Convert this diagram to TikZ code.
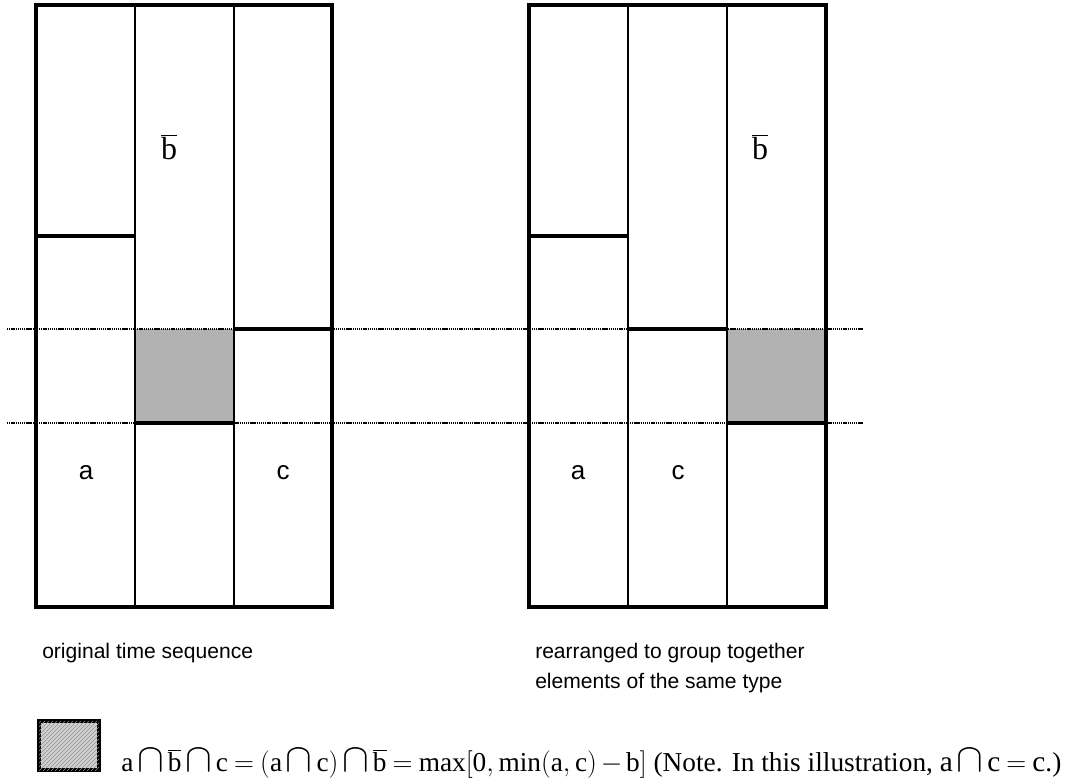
\documentclass[tikz,border=0pt]{standalone}
\usepackage{fontspec}
\usepackage{graphicx}
\setmainfont{Liberation Serif}
\setsansfont{Liberation Sans}
\usetikzlibrary{patterns}
\newcommand{\bcap}{\mathbin{\scalebox{1.45}{$\cap$}}}
\begin{document}
\begin{tikzpicture}[x=0.75pt,y=-0.75pt,
  frame/.style={line width=2.8pt},
  sepline/.style={line width=2.2pt},
  bound/.style={line width=3.6pt},
  dotline/.style={line width=2.2pt,dash pattern=on 1pt off 0.6pt},
  hatchfill/.style={fill=gray!60},
  lab/.style={font=\sffamily\fontsize{19.5}{22}\selectfont},
  capt/.style={font=\sffamily\fontsize{15.8}{18}\selectfont,anchor=base west,inner sep=0pt},
  blab/.style={font=\fontsize{24}{28}\selectfont,inner sep=0pt,anchor=base}]
\useasboundingbox (0,0) rectangle (1068,782);
% hatched areas
\fill[hatchfill] (135,329) rectangle (234,423);
\fill[hatchfill] (727,329) rectangle (826,423);
% dotted guide lines
\coordinate (d1a) at (7,329); \coordinate (d1b) at (863,329);
\coordinate (d2a) at (7,423); \coordinate (d2b) at (863,423);
\draw[dotline] (d1a) -- (d1b);
\draw[dotline] (d2a) -- (d2b);
% left panel
\draw[sepline] (135,5) -- (135,607);
\draw[sepline] (234,5) -- (234,607);
\draw[frame] (36,5) rectangle (332,607);
\draw[bound] (36,236) -- (135,236);
\draw[bound] (135,423) -- (234,423);
\draw[bound] (234,329) -- (332,329);
% right panel
\draw[sepline] (628,5) -- (628,607);
\draw[sepline] (727,5) -- (727,607);
\draw[frame] (529,5) rectangle (826,607);
\draw[bound] (529,236) -- (628,236);
\draw[bound] (628,329) -- (727,329);
\draw[bound] (727,423) -- (826,423);
% labels
\node[lab] (la) at (86,473) {a};
\node[lab] (lc) at (283,473) {c};
\node[lab] (ra) at (578,473) {a};
\node[lab] (rc) at (678,473) {c};
\node[blab] (lb) at (169,159) {$\overline{\mathrm{b}}$};
\node[blab] (rb) at (760,159) {$\overline{\mathrm{b}}$};
% captions
\node[capt] (c1) at (42,658) {original time sequence};
\node[capt] (c2) at (535,658) {rearranged to group together};
\node[capt] (c3) at (535,688) {elements of the same type};
% legend
\draw[line width=2.6pt,fill=gray!35,postaction={pattern=north east lines,pattern color=gray!90}] (39,721) rectangle (99,770);
\node[anchor=base west,inner sep=0pt,font=\fontsize{20.5}{25}\selectfont] (formula) at (121,771)
 {\medmuskip=2.5mu\thickmuskip=4mu$\mathrm{a}\bcap\overline{\mathrm{b}}\bcap\mathrm{c}=\bigl(\mathrm{a}\bcap\mathrm{c}\bigr)\bcap\overline{\mathrm{b}}=\max\Bigl[\mathrm{0},\min\bigl(\mathrm{a},\mathrm{c}\bigr)-\mathrm{b}\Bigr]$ (Note. In this illustration, {\fontsize{22}{26}\selectfont$\mathrm{a}\bcap\mathrm{c}=\mathrm{c}$}.)};
\end{tikzpicture}
\end{document}
